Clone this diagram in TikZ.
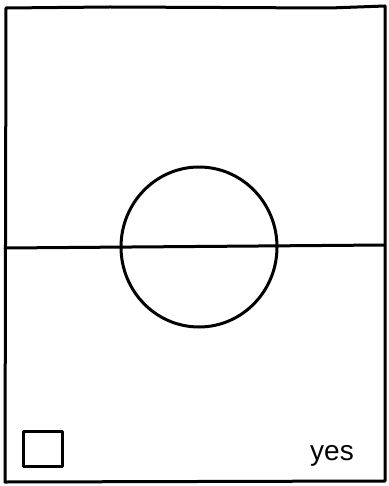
\documentclass[tikz,border=0pt]{standalone}
\usepackage{fontspec}
\setmainfont{Liberation Sans}
\begin{document}
\begin{tikzpicture}[x=1pt,y=-1pt,
  ink/.style={draw=black,line width=3pt,line join=round,line cap=round},
  thin ink/.style={draw=black,line width=2.4pt,line join=round}]
\useasboundingbox (0,0) rectangle (388,486);
\fill[white] (0,0) rectangle (388,486);
% frame
\draw[ink] (6,8) -- (110,7) -- (330,8) -- (385,6) -- (385,481) -- (5,482) -- cycle;
% circle
\draw[ink] (199,247) ellipse [x radius=78, y radius=80];
% horizontal line
\coordinate (L) at (5,248);
\coordinate (R) at (385,245);
\draw[ink] (L) -- (R);
% small square
\node[thin ink, minimum width=39pt, minimum height=35pt, inner sep=0pt] (box) at (43,449) {};
% label
\node[font=\fontsize{28}{30}\selectfont, inner sep=0pt] (yes) at (332,456) {yes};
\end{tikzpicture}
\end{document}
